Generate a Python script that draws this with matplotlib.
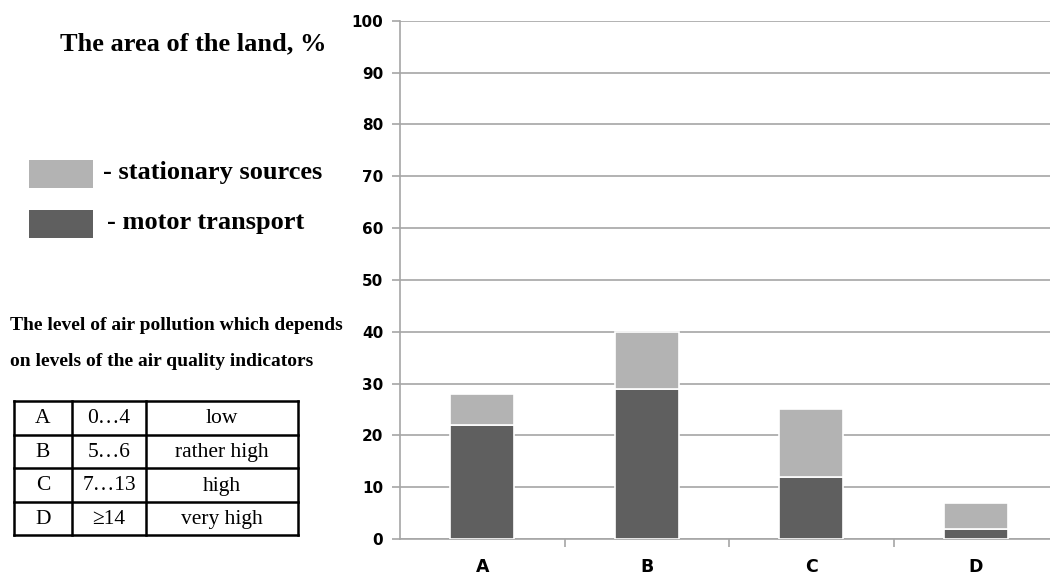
import matplotlib
matplotlib.use("Agg")
import matplotlib.pyplot as plt
import numpy as np

# Data
categories = ["A", "B", "C", "D"]
motor_transport = [22, 29, 12, 2]
stationary_sources = [6, 11, 13, 5]
yticks = [0, 10, 20, 30, 40, 50, 60, 70, 80, 90, 100]

title_text = "The area of the land, %"
legend_labels = ["- stationary sources", "- motor transport"]
table_header = ["The level of air pollution which depends",
                "on levels of the air quality indicators"]
table_levels = ["A", "B", "C", "D"]
table_ranges = ["0\u20264", "5\u20266", "7\u202613", "\u226514"]
table_desc = ["low", "rather high", "high", "very high"]

c_motor = "#5f5f5f"
c_stat = "#b3b3b3"
grid_c = "#a6a6a6"

W, H = 1050, 575
fig = plt.figure(figsize=(W / 100, H / 100), dpi=100)

# Main chart axes
ax = fig.add_axes([400 / W, (H - 539) / H, (W - 400) / W, (539 - 20.7) / H])
x = np.arange(len(categories))
ax.bar(x, motor_transport, width=0.39, color=c_motor, edgecolor="white", linewidth=1.2, zorder=3)
ax.bar(x, stationary_sources, width=0.39, bottom=motor_transport, color=c_stat,
       edgecolor="white", linewidth=1.2, zorder=3)
ax.set_ylim(0, 100)
ax.set_xlim(-0.5, (W - 484) / 164)
ax.set_yticks(yticks)
ax.set_yticklabels([str(v) for v in yticks], fontsize=11, fontweight="bold",
                   family="DejaVu Sans")
ax.yaxis.grid(True, color=grid_c, linewidth=1.2, zorder=0)
ax.set_axisbelow(True)
for s in ["top", "right"]:
    ax.spines[s].set_visible(False)
for s in ["left", "bottom"]:
    ax.spines[s].set_color(grid_c)
    ax.spines[s].set_linewidth(1.2)
ax.tick_params(axis="y", length=6, color=grid_c, width=1.2, pad=6)
ax.set_xticks(x)
ax.set_xticklabels(categories, fontsize=12.5, fontweight="bold", family="DejaVu Sans")
ax.tick_params(axis="x", which="major", length=0, pad=14)
ax.set_xticks(x[:-1] + 0.5, minor=True)
ax.tick_params(axis="x", which="minor", length=6, color=grid_c, width=1.2)

# Overlay in pixel coordinates
ov = fig.add_axes([0, 0, 1, 1])
ov.set_xlim(0, W)
ov.set_ylim(H, 0)
ov.axis("off")

serif = "Liberation Serif"
ov.text(193, 44, title_text, ha="center", va="center", fontsize=19,
        fontweight="bold", family=serif)

legend_colors = [c_stat, c_motor]
legend_y = [174, 224]
legend_tx = [103, 107]
for col, yc, tx, lab in zip(legend_colors, legend_y, legend_tx, legend_labels):
    ov.add_patch(plt.Rectangle((29, yc - 14), 64, 28, facecolor=col, edgecolor="none"))
    ov.text(tx, yc - 2, lab, ha="left", va="center", fontsize=19,
            fontweight="bold", family=serif)

ov.text(10, 325, table_header[0], ha="left", va="center", fontsize=14,
        fontweight="bold", family=serif)
ov.text(10, 361, table_header[1], ha="left", va="center", fontsize=14,
        fontweight="bold", family=serif)

# Table
col_x = [14, 72, 146, 298]
row_y = [401, 434.5, 468, 502, 535]
for xx in col_x:
    ov.plot([xx, xx], [row_y[0], row_y[-1]], color="black", lw=1.8, solid_capstyle="projecting")
for yy in row_y:
    ov.plot([col_x[0], col_x[-1]], [yy, yy], color="black", lw=1.8, solid_capstyle="projecting")
for i in range(len(table_levels)):
    yc = (row_y[i] + row_y[i + 1]) / 2
    for j, txt in enumerate([table_levels[i], table_ranges[i], table_desc[i]]):
        xc = (col_x[j] + col_x[j + 1]) / 2
        ov.text(xc, yc + 1, txt, ha="center", va="center", fontsize=15.5, family=serif)

fig.savefig("out.png", dpi=100)
